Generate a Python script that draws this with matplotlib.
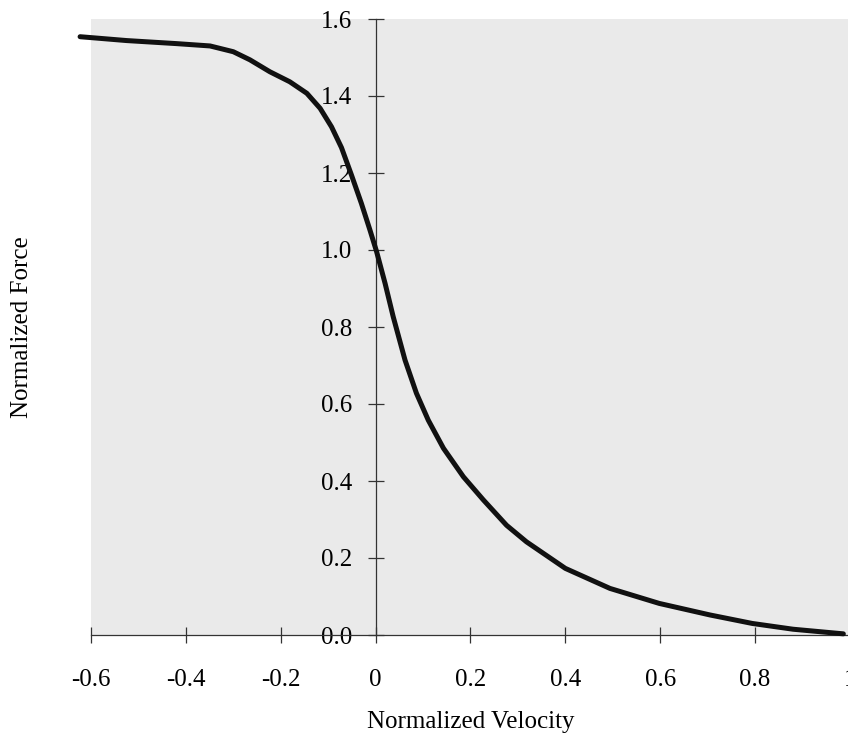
import numpy as np
import matplotlib
matplotlib.use("Agg")
import matplotlib.pyplot as plt

# Curve
velocity = [-0.623, -0.525, -0.419, -0.349, -0.300, -0.265, -0.223, -0.181,
            -0.145, -0.117, -0.093, -0.072, -0.051, -0.030, -0.012, 0.002,
            0.020, 0.037, 0.062, 0.086, 0.111, 0.143, 0.185, 0.227, 0.276,
            0.318, 0.400, 0.494, 0.598, 0.705, 0.794, 0.880, 0.986]
force = [1.554, 1.544, 1.536, 1.530, 1.515, 1.494, 1.463, 1.437,
         1.407, 1.368, 1.320, 1.266, 1.195, 1.121, 1.052, 0.996,
         0.913, 0.827, 0.714, 0.628, 0.558, 0.485, 0.411, 0.351, 0.285,
         0.242, 0.173, 0.121, 0.082, 0.052, 0.030, 0.015, 0.003]

xticks = [-0.6, -0.4, -0.2, 0, 0.2, 0.4, 0.6, 0.8, 1.0]
xtick_labels = ["-0.6", "-0.4", "-0.2", "0", "0.2", "0.4", "0.6", "0.8", "1"]
yticks = [0.0, 0.2, 0.4, 0.6, 0.8, 1.0, 1.2, 1.4, 1.6]
ytick_labels = ["0.0", "0.2", "0.4", "0.6", "0.8", "1.0", "1.2", "1.4", "1.6"]

plt.rcParams["font.family"] = ["Liberation Serif", "DejaVu Serif"]

fig = plt.figure(figsize=(8.48, 7.35), dpi=100)
ax = fig.add_axes([91 / 848, 100 / 735, 759 / 848, 616 / 735])
ax.set_facecolor("#eaeaea")

ax.plot(velocity, force, color="#111111", linewidth=3.6,
        solid_capstyle="round", solid_joinstyle="round",
        clip_on=False, zorder=3)

ax.set_xlim(-0.6, 1.0)
ax.set_ylim(0.0, 1.6)

# axes cross at the origin
ax.spines["left"].set_position(("data", 0))
ax.spines["bottom"].set_position(("data", 0))
ax.spines["top"].set_visible(False)
ax.spines["right"].set_visible(False)
for s in ("left", "bottom"):
    ax.spines[s].set_color("#333333")
    ax.spines[s].set_linewidth(0.9)

ax.set_xticks(xticks)
ax.set_xticklabels(xtick_labels)
ax.set_yticks(yticks)
ax.set_yticklabels(ytick_labels)
ax.tick_params(axis="x", direction="inout", length=11, width=0.9,
               color="#333333", pad=19, labelsize=18)
ax.tick_params(axis="y", direction="inout", length=12, width=0.9,
               color="#333333", pad=11, labelsize=18)

ax.set_xlabel("Normalized Velocity", fontsize=18, va="center")
ax.xaxis.set_label_coords(0.5, -0.141)
ax.set_ylabel("Normalized Force", fontsize=18, va="center")
ax.yaxis.set_label_coords(-0.091, 0.5)

fig.savefig("out.png", dpi=100)
